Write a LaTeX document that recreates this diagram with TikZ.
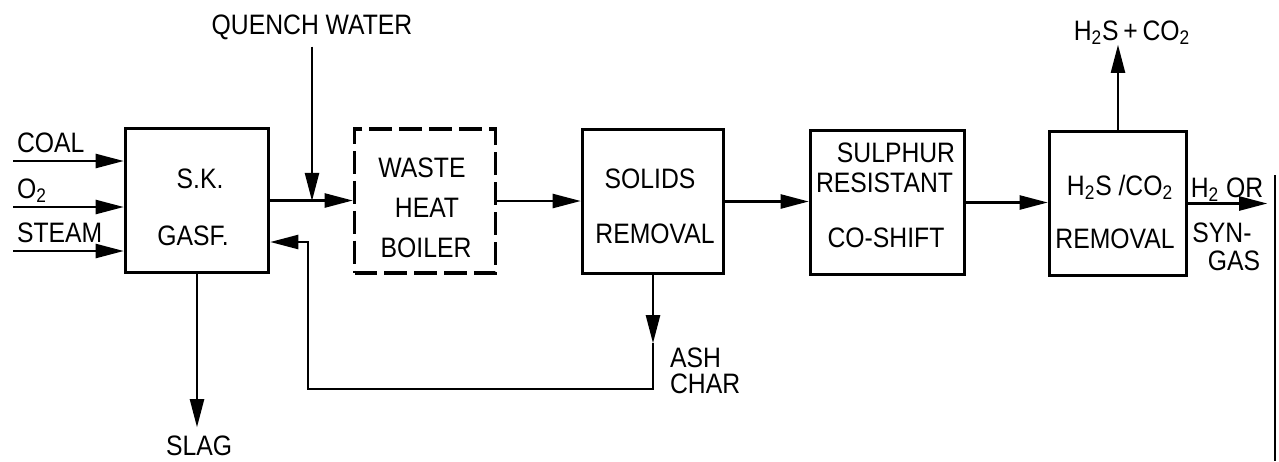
\documentclass[tikz,border=0pt]{standalone}
\usepackage{fontspec}
\setmainfont[FakeStretch=0.88]{Liberation Sans}
\usetikzlibrary{arrows.meta}

\begin{document}
\begin{tikzpicture}[x=0.02cm, y=-0.02cm,
  every node/.style={font=\fontsize{16}{18}\selectfont, inner sep=1pt},
  unidad/.style={draw, line width=2pt, minimum width=2.82cm, minimum height=2.88cm, inner sep=0pt},
  flujo/.style={line width=1.3pt, -{Triangle[length=16pt,width=8pt]}},
  texto/.style={anchor=base}]
  \useasboundingbox (0,0) rectangle (1279,461);

  % Unidades
  \node[unidad, minimum width=2.86cm] (gasf) at (197,200.5) {};
  \node[unidad, dash pattern=on 13pt off 4pt] (whb) at (425,201) {};
  \node[unidad] (solids) at (653,201.5) {};
  \node[unidad, minimum width=3.08cm] (shift) at (887.5,202.5) {};
  \node[unidad, minimum width=2.74cm] (acid) at (1118,203.5) {};

  % Textos de las unidades
  \node[texto] (gasfa) at (200,188) {S.K.};
  \node[texto] (gasfb) at (193,245) {GASF.};
  \node[texto] (whba) at (422,177) {WASTE};
  \node[texto] (whbb) at (427,217) {HEAT};
  \node[texto] (whbc) at (426,257) {BOILER};
  \node[texto] (solidsa) at (650,188) {SOLIDS};
  \node[texto] (solidsb) at (655,243) {REMOVAL};
  \node[texto] (shifta) at (896,162) {SULPHUR};
  \node[texto] (shiftb) at (884.5,192) {RESISTANT};
  \node[texto] (shiftc) at (886,247) {CO-SHIFT};
  \node[texto] (acida) at (1120,195) {H\textsubscript{2}S /CO\textsubscript{2}};
  \node[texto] (acidb) at (1115,248) {REMOVAL};

  % Entradas
  \node[anchor=base west] (coal) at (15,152) {COAL};
  \node[anchor=base west] (oxy) at (15,198) {O\textsubscript{2}};
  \node[anchor=base west] (steam) at (15,242) {STEAM};
  \foreach \y [count=\i] in {161,207,251} {
    \coordinate (in\i) at (13,\y);
    \draw[flujo] (in\i) -- (in\i -| gasf.west);
  }

  % Agua de enfriamiento
  \node[texto] (qw) at (312,34) {QUENCH WATER};
  \coordinate (qwtop) at ([yshift=-3pt]qw.south);
  \draw[flujo] (qwtop) -- (qwtop |- whb.west);

  % Linea principal
  \draw[flujo] (gasf.east) -- (gasf.east -| whb.west);
  \draw[flujo] (whb.east) -- (whb.east -| solids.west);
  \draw[flujo] (solids.east) -- (solids.east -| shift.west);
  \draw[flujo] (shift.east) -- (shift.east -| acid.west);
  \draw[flujo] (acid.east) -- ++(79,0) coordinate (prod);

  % Productos
  \node[anchor=base] (proda) at (1227,197) {H\textsubscript{2} OR};
  \node[anchor=base] (prodb) at (1222,242) {SYN-};
  \node[anchor=base] (prodc) at (1234,270) {GAS};
  \draw[flujo] (acid.north) -- ++(0,-85) coordinate (gastip);
  \node[texto] (gasout) at (1132,40) {H\textsubscript{2}S\,+\,CO\textsubscript{2}};

  % Escoria
  \draw[flujo] (gasf.south) -- ++(0,153) coordinate (slagtip);
  \node[texto] (slag) at (199,455) {SLAG};

  % Ceniza y char (recirculacion)
  \draw[flujo] (solids.south) -- ++(0,68) coordinate (ashtip);
  \coordinate (ret) at (308,242);
  \draw[flujo] (ashtip) -- ++(0,46) -| (ret) -- (ret -| gasf.east);
  \node[anchor=base west] (ash) at (668,367) {ASH};
  \node[anchor=base west] (char) at (668,393) {CHAR};

  % Borde del escaneo
  \draw[line width=0.8pt] (1275,175) -- (1275,461);
\end{tikzpicture}
\end{document}
